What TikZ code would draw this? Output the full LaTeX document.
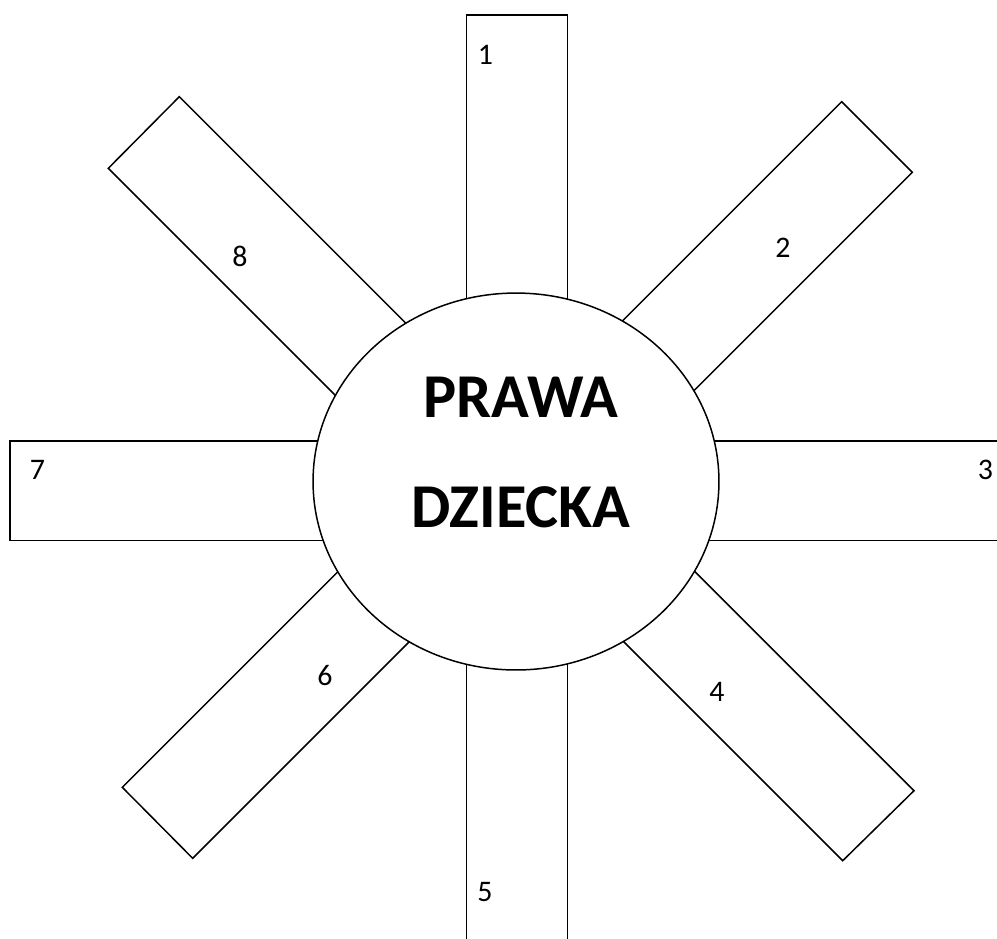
\documentclass[tikz,border=0pt]{standalone}
\usepackage{fontspec}
\setmainfont{Carlito}
\usetikzlibrary{shapes.geometric}

\begin{document}
\begin{tikzpicture}[x=0.02cm, y=-0.02cm, line width=0.85pt,
  ray/.style={draw, fill=white, line join=miter},
  num/.style={inner sep=0pt, font=\fontsize{17}{20}\selectfont}]
\useasboundingbox (0,0) rectangle (997,938);
% the eight rays, drawn under the ellipse
\draw[ray] (466.7,15) rectangle (567.3,400);
\draw[ray] (466.7,560) rectangle (567.3,960);
\draw[ray] (10,441) rectangle (400,540.7);
\draw[ray] (600,441) rectangle (1010,540.7);
\draw[ray] (841.7,101.7) -- (912.3,172.3) -- ++(-300,300) -- (541.7,401.7) -- cycle;
\draw[ray] (179.3,96.7) -- (108.3,168.3) -- ++(300,300) -- (479.3,396.7) -- cycle;
\draw[ray] (122.3,787.3) -- (192.7,858.3) -- ++(300,-300) -- (422.3,487.3) -- cycle;
\draw[ray] (914,790.7) -- (842.7,860.7) -- ++(-300,-300) -- (614,490.7) -- cycle;
% centre
\node[ellipse, draw, fill=white, minimum width=8.12cm, minimum height=7.54cm] (prawa) at (516,481.5) {};
\node[align=center, inner sep=0pt, font=\bfseries\fontsize{35.5}{62.4}\selectfont] (title) at (521,452.5) {PRAWA\\DZIECKA};
% numbers
\node[num] (n1) at (485.5,55) {1};
\node[num] (n2) at (783,248) {2};
\node[num] (n3) at (985.5,470) {3};
\node[num] (n4) at (717,692) {4};
\node[num] (n5) at (485,892) {5};
\node[num] (n6) at (325,676) {6};
\node[num] (n7) at (37.5,470) {7};
\node[num] (n8) at (240,256) {8};
\end{tikzpicture}
\end{document}
